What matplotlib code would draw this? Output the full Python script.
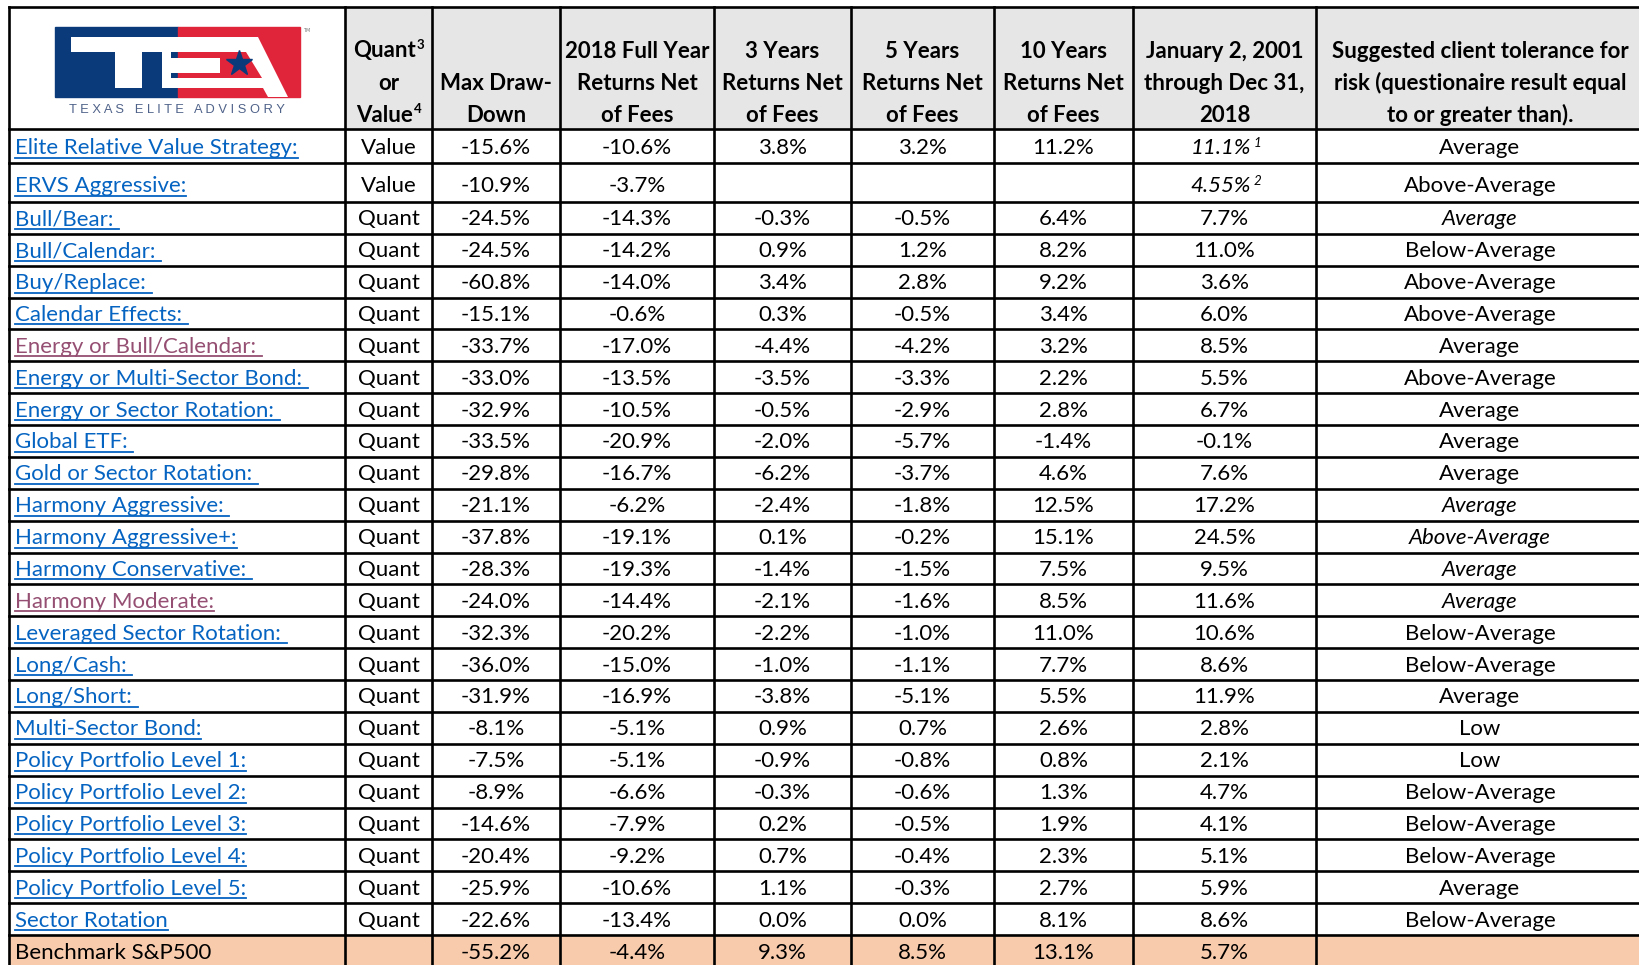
import matplotlib
matplotlib.use("Agg")
import matplotlib.pyplot as plt
from matplotlib import font_manager
from matplotlib.patches import Rectangle, Polygon

# Table data
names = ["Elite Relative Value Strategy:", "ERVS Aggressive:", "Bull/Bear: ", "Bull/Calendar: ",
         "Buy/Replace: ", "Calendar Effects: ", "Energy or Bull/Calendar: ",
         "Energy or Multi-Sector Bond: ", "Energy or Sector Rotation: ", "Global ETF: ",
         "Gold or Sector Rotation: ", "Harmony Aggressive: ", "Harmony Aggressive+:",
         "Harmony Conservative: ", "Harmony Moderate:", "Leveraged Sector Rotation: ",
         "Long/Cash: ", "Long/Short: ", "Multi-Sector Bond:", "Policy Portfolio Level 1:",
         "Policy Portfolio Level 2:", "Policy Portfolio Level 3:", "Policy Portfolio Level 4:",
         "Policy Portfolio Level 5:", "Sector Rotation"]
kinds = ["Value", "Value"] + ["Quant"] * 23
max_dd = [-15.6, -10.9, -24.5, -24.5, -60.8, -15.1, -33.7, -33.0, -32.9, -33.5, -29.8, -21.1,
          -37.8, -28.3, -24.0, -32.3, -36.0, -31.9, -8.1, -7.5, -8.9, -14.6, -20.4, -25.9, -22.6]
ret_2018 = [-10.6, -3.7, -14.3, -14.2, -14.0, -0.6, -17.0, -13.5, -10.5, -20.9, -16.7, -6.2,
            -19.1, -19.3, -14.4, -20.2, -15.0, -16.9, -5.1, -5.1, -6.6, -7.9, -9.2, -10.6, -13.4]
ret_3y = [3.8, None, -0.3, 0.9, 3.4, 0.3, -4.4, -3.5, -0.5, -2.0, -6.2, -2.4,
          0.1, -1.4, -2.1, -2.2, -1.0, -3.8, 0.9, -0.9, -0.3, 0.2, 0.7, 1.1, 0.0]
ret_5y = [3.2, None, -0.5, 1.2, 2.8, -0.5, -4.2, -3.3, -2.9, -5.7, -3.7, -1.8,
          -0.2, -1.5, -1.6, -1.0, -1.1, -5.1, 0.7, -0.8, -0.6, -0.5, -0.4, -0.3, 0.0]
ret_10y = [11.2, None, 6.4, 8.2, 9.2, 3.4, 3.2, 2.2, 2.8, -1.4, 4.6, 12.5,
           15.1, 7.5, 8.5, 11.0, 7.7, 5.5, 2.6, 0.8, 1.3, 1.9, 2.3, 2.7, 8.1]
since_2001 = [11.1, 4.55, 7.7, 11.0, 3.6, 6.0, 8.5, 5.5, 6.7, -0.1, 7.6, 17.2,
              24.5, 9.5, 11.6, 10.6, 8.6, 11.9, 2.8, 2.1, 4.7, 4.1, 5.1, 5.9, 8.6]
since_notes = {0: "1", 1: "2"}
tolerance = ["Average", "Above-Average", "Average", "Below-Average", "Above-Average",
             "Above-Average", "Average", "Above-Average", "Average", "Average", "Average",
             "Average", "Above-Average", "Average", "Average", "Below-Average", "Below-Average",
             "Average", "Low", "Low", "Below-Average", "Below-Average", "Below-Average",
             "Average", "Below-Average"]
italic_tolerance = [2, 11, 12, 13, 14]
visited_links = [6, 14]

bench_name = "Benchmark S&P500"
bench_values = [-55.2, -4.4, 9.3, 8.5, 13.1, 5.7]

header_lines = [
    ["Quant", "or", "Value"],
    ["", "Max Draw-", "Down"],
    ["2018 Full Year", "Returns Net", "of Fees"],
    ["3 Years", "Returns Net", "of Fees"],
    ["5 Years", "Returns Net", "of Fees"],
    ["10 Years", "Returns Net", "of Fees"],
    ["January 2, 2001", "through Dec 31,", "2018"],
    ["Suggested client tolerance for", "risk (questionaire result equal", "to or greater than)."],
]

LINK = "#0563C1"
VISITED = "#954F72"
HEADER_BG = "#E7E6E6"
BENCH_BG = "#F8CBAD"

installed = {f.name for f in font_manager.fontManager.ttflist}
FONT = next((f for f in ["Lato", "Open Sans", "Noto Sans"] if f in installed), "DejaVu Sans")


def pct(v):
    if v is None:
        return ""
    if round(v, 1) != v:
        return f"{v:.2f}%"
    return f"{v:.1f}%"


fig = plt.figure(figsize=(16.4, 9.65), dpi=100)
ax = fig.add_axes([0, 0, 1, 1])
ax.set_xlim(0, 1640)
ax.set_ylim(965, 0)
ax.axis("off")

# fit the font size so the first strategy name spans ~281 px like the reference
renderer = fig.canvas.get_renderer()
probe = ax.text(0, 0, names[0], family=FONT, fontsize=10)
FS = 10 * 281 / probe.get_window_extent(renderer).width
probe.remove()
probe = ax.text(0, 0, header_lines[-1][0], family=FONT, fontsize=10, fontweight="bold")
FS_HEAD = min(FS, 10 * 298 / probe.get_window_extent(renderer).width)
probe.remove()
FS_SUP = FS * 0.6

col_edges = [9, 345, 432, 560, 714, 851, 994, 1133, 1316, 1645]
row_h = 31.87
row_edges = [7, 129, 163, 202] + [202 + row_h * k for k in range(1, 24)]
bench_top = row_edges[-1]
bench_bot = bench_top + row_h + 2

# backgrounds
ax.add_patch(Rectangle((col_edges[1], row_edges[0]), col_edges[-1] - col_edges[1],
                       row_edges[1] - row_edges[0], color=HEADER_BG, zorder=0))
ax.add_patch(Rectangle((col_edges[0], bench_top), col_edges[-1] - col_edges[0],
                       bench_bot - bench_top, color=BENCH_BG, zorder=0))

# grid
for y in row_edges:
    ax.plot([col_edges[0], col_edges[-1]], [y, y], color="black", lw=1.9, zorder=3,
            solid_capstyle="projecting")
for x in col_edges:
    ax.plot([x, x], [row_edges[0], bench_bot], color="black", lw=1.9, zorder=3,
            solid_capstyle="projecting")

centers = [(col_edges[i] + col_edges[i + 1]) / 2 for i in range(len(col_edges) - 1)]
centers[-1] = 1480

# header
base_lines = [57.5, 89.5, 121.5]
for c, lines in enumerate(header_lines, start=1):
    for k, line in enumerate(lines):
        if not line:
            continue
        xc = centers[c] - (4 if c == 1 and k != 1 else 0)
        t = ax.text(xc, base_lines[k], line, ha="center", va="baseline",
                    family=FONT, fontsize=FS_HEAD, fontweight="bold")
        if c == 1 and k in (0, 2):
            ax.annotate("3" if k == 0 else "4", xy=(1, 1), xycoords=t, xytext=(0.5, -3),
                        textcoords="offset points", ha="left", va="center",
                        family=FONT, fontsize=FS_SUP, fontweight="bold")

# logo
blue, red = "#0B3A7A", "#E0253A"
ax.add_patch(Rectangle((55, 27), 123, 70, color=blue, zorder=1))
ax.add_patch(Rectangle((178, 27), 122, 70, color=red, zorder=1))
white_shapes = [
    [(71, 37), (236, 37), (236, 52), (142, 52), (142, 88), (115, 88), (115, 52), (71, 52)],
    [(162, 52), (171, 52), (171, 58), (220, 58), (220, 73), (171, 73), (171, 78),
     (162, 78)],
    [(236, 37), (258, 37), (288, 97), (268, 97), (263, 88), (162, 88), (162, 78), (262, 78),
     (246, 52), (236, 52)],
]
for pts in white_shapes:
    ax.add_patch(Polygon(pts, closed=True, color="white", lw=0, zorder=2))
ax.plot([239], [63], marker="*", color=blue, markersize=19, zorder=3)
ax.text(303, 31, "TM", fontsize=3.5, color="#777777", ha="left", va="center")
ax.text(177, 113, "T E X A S   E L I T E   A D V I S O R Y", ha="center", va="baseline",
        family="Liberation Sans", fontsize=9.3, color="#4F6289")

# body
links = []
for i in range(len(names)):
    base = row_edges[i + 2] - (9.5 if i == 1 else 8.5)
    color = VISITED if i in visited_links else LINK
    t = ax.text(15, base, names[i], ha="left", va="baseline", family=FONT, fontsize=FS,
                color=color)
    links.append((t, base, color))
    row = [kinds[i], pct(max_dd[i]), pct(ret_2018[i]), pct(ret_3y[i]), pct(ret_5y[i]),
           pct(ret_10y[i])]
    for c, s in enumerate(row, start=1):
        ax.text(centers[c], base, s, ha="center", va="baseline", family=FONT, fontsize=FS)
    if i in since_notes:
        t2 = ax.text(centers[7] - 4, base, pct(since_2001[i]), ha="center", va="baseline",
                     family=FONT, fontsize=FS, style="italic")
        ax.annotate(since_notes[i], xy=(1, 1), xycoords=t2, xytext=(2, -3),
                    textcoords="offset points", ha="left", va="center", family=FONT,
                    fontsize=FS_SUP, style="italic")
    else:
        ax.text(centers[7], base, pct(since_2001[i]), ha="center", va="baseline",
                family=FONT, fontsize=FS)
    ax.text(centers[8], base, tolerance[i], ha="center", va="baseline", family=FONT,
            fontsize=FS, style="italic" if i in italic_tolerance else "normal")

# benchmark row
base = bench_top + 23.5
ax.text(15, base, bench_name, ha="left", va="baseline", family=FONT, fontsize=FS)
for c, v in enumerate(bench_values, start=2):
    ax.text(centers[c], base, pct(v), ha="center", va="baseline", family=FONT, fontsize=FS)

# underline hyperlinks
fig.canvas.draw()
inv = ax.transData.inverted()
for t, base, color in links:
    bb = t.get_window_extent(renderer)
    x0 = inv.transform((bb.x0, bb.y0))[0]
    x1 = inv.transform((bb.x1, bb.y0))[0]
    ax.plot([x0, x1], [base + 3.5, base + 3.5], color=color, lw=1.3, zorder=2)

fig.savefig("out.png", dpi=100, facecolor="white")
